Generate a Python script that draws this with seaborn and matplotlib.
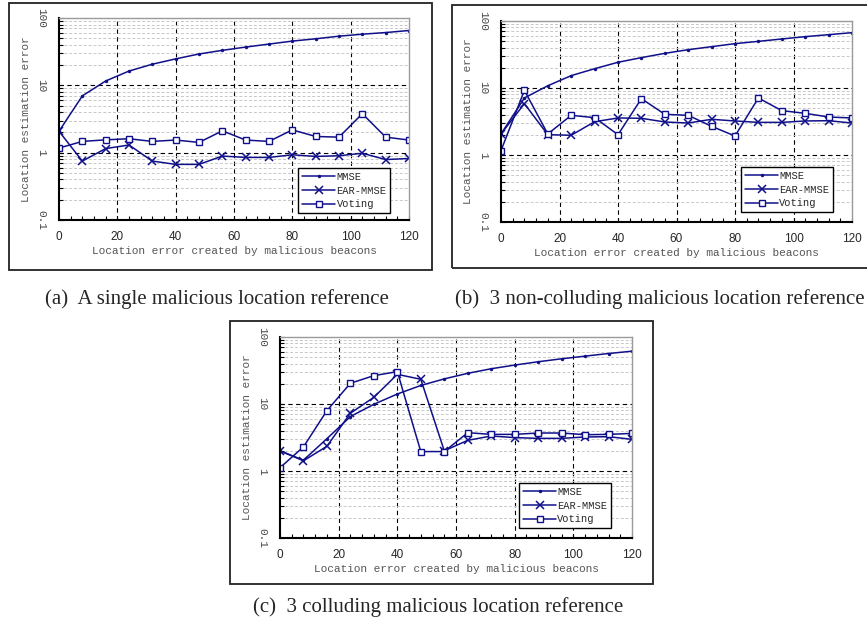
import numpy as np
import pandas as pd
import seaborn as sns
import matplotlib.pyplot as plt
from matplotlib.patches import Rectangle
from matplotlib.ticker import LogLocator, MultipleLocator, NullFormatter

sns.set_style("white")
plt.rcParams['font.family'] = ['Liberation Sans', 'DejaVu Sans']

# x values shared by all three panels
offset = [0, 8, 16, 24, 32, 40, 48, 56, 64, 72, 80, 88, 96, 104, 112, 120]

# (a) a single malicious location reference
mmse_a = [2.08, 6.97, 11.6, 16.3, 20.6, 24.7, 29.2, 33.1, 37.0, 41.0, 45.4, 49.1, 53.7, 57.5, 60.8, 65.2]
ear_a = [2.08, 0.75, 1.15, 1.30, 0.75, 0.67, 0.67, 0.89, 0.85, 0.85, 0.93, 0.88, 0.90, 0.98, 0.79, 0.82]
vote_a = [1.17, 1.47, 1.55, 1.61, 1.47, 1.54, 1.42, 2.11, 1.54, 1.47, 2.18, 1.74, 1.70, 3.79, 1.70, 1.54]

# (b) 3 non-colluding malicious location references
mmse_b = [2.06, 7.1, 10.8, 15.3, 19.4, 24.2, 28.4, 32.9, 37.3, 41.4, 45.9, 49.7, 53.9, 58.4, 62.5, 67.0]
ear_b = [2.06, 5.84, 2.01, 1.97, 3.14, 3.57, 3.53, 3.11, 3.00, 3.41, 3.22, 3.07, 3.07, 3.22, 3.25, 3.00]
vote_b = [1.16, 9.23, 2.06, 3.91, 3.61, 2.01, 6.93, 4.05, 3.91, 2.68, 1.92, 7.10, 4.59, 4.19, 3.69, 3.57]

# (c) 3 colluding malicious location references
mmse_c = [2.0, 1.45, 3.04, 6.5, 9.9, 14.1, 18.9, 23.7, 28.7, 33.6, 38.1, 42.7, 47.3, 51.8, 56.7, 61.4]
ear_c = [2.0, 1.42, 2.34, 7.28, 12.6, 27.7, 23.4, 2.0, 2.87, 3.33, 3.15, 3.07, 3.07, 3.22, 3.25, 2.97]
vote_c = [1.12, 2.29, 7.97, 20.4, 26.5, 30.4, 1.95, 1.95, 3.73, 3.52, 3.52, 3.69, 3.69, 3.48, 3.52, 3.64]

captions = ["(a)  A single malicious location reference",
            "(b)  3 non-colluding malicious location reference",
            "(c)  3 colluding malicious location reference"]

ytick_vals = [0.1, 1, 10, 100]
ytick_labels = ["0.1", "1", "10", "100"]

navy = "#10108a"
mono = "Liberation Mono"


def draw_panel(ax, mmse, ear, vote, anchor):
    df = pd.DataFrame({"x": offset, "MMSE": mmse, "EAR-MMSE": ear, "Voting": vote})
    sns.lineplot(data=df, x="x", y="MMSE", ax=ax, color=navy, lw=1.1,
                 marker="o", markersize=2.5, markeredgewidth=0, label="MMSE")
    sns.lineplot(data=df, x="x", y="EAR-MMSE", ax=ax, color=navy, lw=1.1,
                 marker="x", markersize=6, markeredgewidth=1.1,
                 markeredgecolor=navy, label="EAR-MMSE")
    sns.lineplot(data=df, x="x", y="Voting", ax=ax, color=navy, lw=1.1,
                 marker="s", markersize=5, markerfacecolor="white",
                 markeredgecolor=navy, markeredgewidth=1.0, label="Voting")

    ax.set_yscale("log")
    ax.set_xlim(0, 120)
    ax.set_ylim(0.1, 100)
    ax.set_xticks(range(0, 121, 20))
    ax.xaxis.set_minor_locator(MultipleLocator(4))
    ax.set_yticks(ytick_vals)
    ax.set_yticklabels(ytick_labels, rotation=-90, va="center",
                       family=mono, fontsize=8, color="#444444")
    ax.yaxis.set_minor_locator(LogLocator(base=10, subs=np.arange(2, 10)))
    ax.yaxis.set_minor_formatter(NullFormatter())
    for lab in ax.get_xticklabels():
        lab.set_fontsize(8.5)

    ax.tick_params(which="both", direction="in", length=3, width=0.8,
                   color="black", bottom=True, left=True)
    ax.tick_params(axis="x", pad=8)
    ax.tick_params(axis="y", pad=9)

    ax.grid(which="minor", axis="y", color="#c8c8c8", lw=0.7, linestyle=(0, (3, 2)))
    ax.grid(which="major", axis="both", color="black", lw=0.8, linestyle=(0, (4, 3)))
    xg = ax.xaxis.get_gridlines()
    xg[0].set_visible(False)
    xg[-1].set_visible(False)
    yg = ax.yaxis.get_gridlines()
    yg[0].set_visible(False)
    yg[-1].set_visible(False)

    for side in ["left", "bottom"]:
        ax.spines[side].set_color("black")
        ax.spines[side].set_linewidth(1.5)
    for side in ["top", "right"]:
        ax.spines[side].set_color("#9a9a9a")
        ax.spines[side].set_linewidth(1.0)

    ax.set_xlabel("Location error created by malicious beacons", family=mono,
                  fontsize=8, color="#555555", labelpad=2)
    ax.set_ylabel("Location estimation error", family=mono,
                  fontsize=8, color="#555555", labelpad=4)

    leg = ax.legend(loc="lower right", bbox_to_anchor=anchor, fancybox=False,
                    framealpha=1, edgecolor="black", prop={"family": mono, "size": 7.5},
                    handlelength=3.2, handletextpad=0.1, borderpad=0.35,
                    labelspacing=0.35, borderaxespad=0)
    leg.get_frame().set_linewidth(1.0)


fig = plt.figure(figsize=(8.67, 6.27), dpi=100)
W, H = 867, 627

ax_a = fig.add_axes([59 / W, (H - 220) / H, 350 / W, 202 / H])
ax_b = fig.add_axes([501 / W, (H - 222) / H, 351 / W, 201 / H])
ax_c = fig.add_axes([280 / W, (H - 538) / H, 352 / W, 201 / H])

draw_panel(ax_a, mmse_a, ear_a, vote_a, (0.946, 0.035))
draw_panel(ax_b, mmse_b, ear_b, vote_b, (0.946, 0.05))
draw_panel(ax_c, mmse_c, ear_c, vote_c, (0.94, 0.05))

# outer frames round each panel
for (x0, y0, x1, y1) in [(9, 3, 432, 270), (452, 5, 900, 268), (230, 321, 653, 584)]:
    fig.add_artist(Rectangle((x0 / W, (H - y1) / H), (x1 - x0) / W, (y1 - y0) / H,
                             transform=fig.transFigure, fill=False,
                             edgecolor="#222222", lw=1.3, clip_on=False))

serif = ["Liberation Serif", "DejaVu Serif"]
fig.text(45 / W, 1 - 299 / H, captions[0], ha="left", va="center",
         family=serif, fontsize=15)
fig.text(455 / W, 1 - 299 / H, captions[1], ha="left", va="center",
         family=serif, fontsize=15)
fig.text(253 / W, 1 - 607 / H, captions[2], ha="left", va="center",
         family=serif, fontsize=15)

fig.savefig("out.png", dpi=100, facecolor="white")
